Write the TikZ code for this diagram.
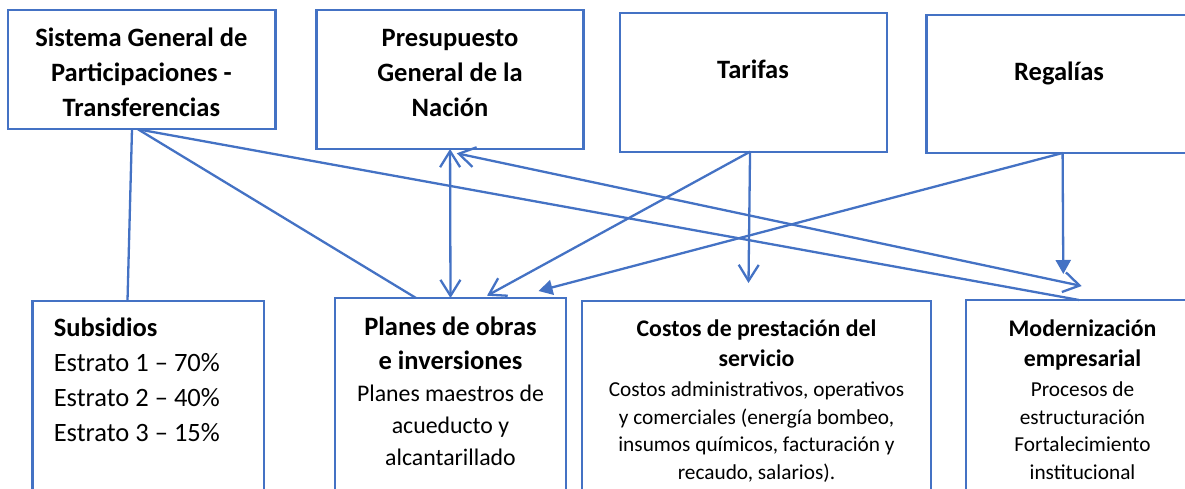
\documentclass[tikz,border=0pt]{standalone}
\usepackage{fontspec}
\setmainfont{Carlito}
\usetikzlibrary{arrows.meta}
\definecolor{myblue}{HTML}{4472C4}
\begin{document}
\begin{tikzpicture}[x=1pt,y=-1pt,
  box/.style={draw=myblue, line width=2.3pt, rectangle, anchor=north west, inner sep=0pt, outer sep=0pt},
  hdrA/.style={font={\fontsize{26.5}{35}\selectfont\bfseries}, align=center, anchor=base, inner sep=0pt},
  conn/.style={draw=myblue, line width=2.3pt},
  openhead/.style={-{Straight Barb[length=16pt,width=20pt]}},
  bothopen/.style={{Straight Barb[length=16pt,width=20pt]}-{Straight Barb[length=16pt,width=20pt]}},
  fillhead/.style={-{Triangle[length=14pt,width=15pt]}}
]
\useasboundingbox (0,0) rectangle (1185,489);
\begin{scope}
\clip (0,0) rectangle (1185,489);
% top boxes
\node[box, minimum width=267.8pt, minimum height=119.3pt] (sgp) at (7.7,10) {};
\node[box, minimum width=267.1pt, minimum height=139pt] (pgn) at (316.5,10) {};
\node[box, minimum width=267.3pt, minimum height=138.7pt] (tar) at (620,13) {};
\node[box, minimum width=273.6pt, minimum height=138pt] (reg) at (926.4,15) {};
% bottom boxes
\node[box, minimum width=231.5pt, minimum height=220pt] (sub) at (32.5,300.7) {};
\node[box, minimum width=231pt, minimum height=220pt] (pla) at (335,298) {};
\node[box, minimum width=349pt, minimum height=220pt] (cos) at (582,300.7) {};
\node[box, minimum width=234pt, minimum height=220pt] (mod) at (966,300) {};

% texts (anchor base = baseline of last line)
\node[hdrA] (sgpT) at (141.4,117) {Sistema General de\\Participaciones -\\Transferencias};
\node[hdrA] (pgnT) at (450,117) {Presupuesto\\General de la\\Nación};
\node[hdrA] (tarT) at (753,78.3) {Tarifas};
\node[hdrA] (regT) at (1059,80.7) {Regalías};

\node[hdrA, anchor=base west] (subH) at (53.6,336.7) {Subsidios};
\node[font={\fontsize{26.5}{34.7}\selectfont}, align=left, anchor=base west, inner sep=0pt] (subB) at (53.6,441.1) {Estrato 1 – 70\%\\Estrato 2 – 40\%\\Estrato 3 – 15\%};

\node[font={\fontsize{26.5}{34.3}\selectfont\bfseries}, align=center, anchor=base, inner sep=0pt] (plaH) at (450.5,369.3) {Planes de obras\\e inversiones};
\node[font={\fontsize{23.8}{31.7}\selectfont}, align=center, anchor=base, inner sep=0pt] (plaB) at (450.5,465.1) {Planes maestros de\\acueducto y\\alcantarillado};

\node[font={\fontsize{23.8}{30.7}\selectfont\bfseries}, align=center, anchor=base, inner sep=0pt] (cosH) at (756.5,366.7) {Costos de prestación del\\servicio};
\node[font={\fontsize{21.3}{27.6}\selectfont}, align=center, anchor=base, inner sep=0pt] (cosB) at (756.5,479.5) {Costos administrativos, operativos\\y comerciales (energía bombeo,\\insumos químicos, facturación y\\recaudo, salarios).};

\node[font={\fontsize{23.8}{30.7}\selectfont\bfseries}, align=center, anchor=base, inner sep=0pt] (modH) at (1082.5,366.7) {Modernización\\empresarial};
\node[font={\fontsize{21.3}{27.6}\selectfont}, align=center, anchor=base, inner sep=0pt] (modB) at (1082.5,479.5) {Procesos de\\estructuración\\Fortalecimiento\\institucional};

% connectors
\draw[conn] ([xshift=-9.6pt]sgp.south) -- ([xshift=-20.75pt]sub.north);
\draw[conn] ([xshift=-3.6pt]sgp.south) -- ([xshift=-34.5pt]pla.north);
\draw[conn] ([xshift=-3.6pt]sgp.south) -- ([xshift=-4pt]mod.north);
\draw[conn, bothopen] (pgn.south) -- (pla.north);
\draw[conn, bothopen] ([xshift=6.7pt,yshift=-4.3pt]pgn.south) -- ([xshift=-1.3pt,yshift=14pt]mod.north);
\draw[conn, openhead] ([xshift=-3.6pt]tar.south) -- ([xshift=36.5pt,yshift=2.3pt]pla.north);
\draw[conn, openhead] ([xshift=-3.6pt]tar.south) -- ([xshift=-8pt,yshift=17.7pt]cos.north);
\draw[conn, fillhead] ([xshift=-0.6pt]reg.south) -- ([xshift=88pt,yshift=7pt]pla.north);
\draw[conn, fillhead] ([xshift=-0.6pt]reg.south) -- ([xshift=-19.7pt,yshift=26pt]mod.north);
\end{scope}
\end{tikzpicture}
\end{document}
